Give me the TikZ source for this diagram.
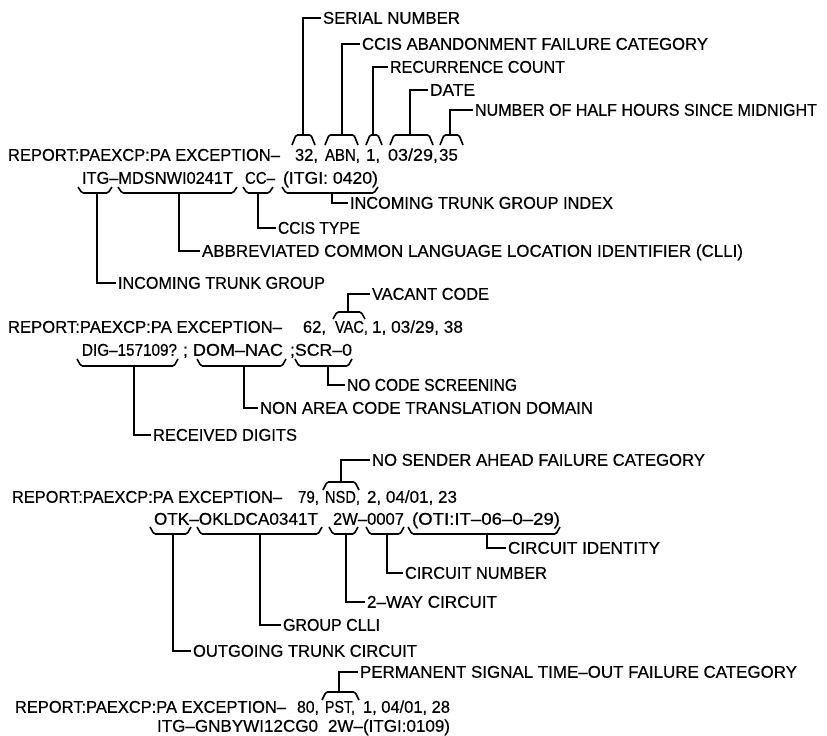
\documentclass[tikz,border=0pt]{standalone}
\usepackage{fontspec}
\setmainfont{Liberation Sans}[FakeBold=0.5]
\usepackage{graphicx}
\newlength\natw
\newcommand\fitto[2]{\settowidth{\natw}{#2}\pgfmathsetmacro\sx{#1/\natw}\scalebox{\sx}[1]{#2}}
\tikzset{
  txt/.style={inner sep=0pt,outer sep=0pt,anchor=base west,font=\fontsize{17}{19}\selectfont},
  lead/.style={line width=1.6pt},
  brc/.style={line width=1.6pt,rounded corners=1.5pt}
}
% label fitted to width: name, x-left, x-right, y-centre, text
\newcommand\lab[5]{%
  \pgfmathsetmacro\labw{#3-#2}%
  \node[txt] (#1) at (#2,#4+5.75) {\fitto{\labw}{#5}};
  \coordinate (#1e) at (#2-2.5,#4);}
% label at natural width: name, x-left, y-centre, text
\newcommand\labn[4]{%
  \node[txt] (#1) at (#2-1,#3+5.75) {#4};}
% upper brace: name, x1, x2, ytop, yends, x of stem
\newcommand\ubr[6]{%
  \draw[brc] (#2,#5) -- (#2+4,#4) -- (#3-4,#4) -- (#3,#5);
  \coordinate (#1) at (#6,#4);}
% lower brace: name, x1, x2, yends, ybottom, x of stem
\newcommand\lbr[6]{%
  \draw[brc] (#2,#4) -- (#2+4,#5) -- (#3-4,#5) -- (#3,#4);
  \coordinate (#1) at (#6,#5);}
\begin{document}
\begin{tikzpicture}[x=1pt,y=-1pt]
\useasboundingbox[fill=white] (0,0) rectangle (827,736);
% ---------------- section 1
\lab{serial}{323}{460}{18}{SERIAL NUMBER}
\lab{abn}{362}{708}{44}{CCIS ABANDONMENT FAILURE CATEGORY}
\lab{rec}{390}{565}{67}{RECURRENCE COUNT}
\lab{date}{430}{475}{90}{DATE}
\lab{half}{475}{817}{110}{NUMBER OF HALF HOURS SINCE MIDNIGHT}
\lab{rA}{8}{280}{155}{REPORT:PAEXCP:PA EXCEPTION–}
\lab{fa}{295}{318}{155}{32,}
\lab{fb}{325}{360}{155}{ABN,}
\labn{fc}{367}{155}{1,}
\lab{fd}{388}{438}{155}{03/29,}
\labn{fe}{440}{155}{35}
\lab{ga}{82}{233}{178}{ITG–MDSNWI0241T}
\lab{gb}{245}{275}{178}{CC–}
\lab{gc}{283}{378}{178}{(ITGI: 0420)}
\lab{itgi}{350}{613}{203}{INCOMING TRUNK GROUP INDEX}
\lab{ccis}{278}{360}{228}{CCIS TYPE}
\lab{clli}{202}{743}{251}{ABBREVIATED COMMON LANGUAGE LOCATION IDENTIFIER (CLLI)}
\lab{itg}{118}{325}{283}{INCOMING TRUNK GROUP}
\ubr{ua}{292}{315}{135}{145}{303}
\ubr{ub}{325}{358}{135}{145}{342}
\ubr{uc}{366}{382}{135}{145}{373}
\ubr{ud}{390}{433}{135}{145}{410}
\ubr{ue}{440}{463}{135}{145}{450}
\lbr{da}{78}{112}{187}{193}{97}
\lbr{db}{118}{237}{187}{193}{179}
\lbr{dc}{243}{273}{187}{193}{258}
\lbr{dd}{282}{378}{187}{193}{332}
\draw[lead] (ua) |- (seriale);
\draw[lead] (ub) |- (abne);
\draw[lead] (uc) |- (rece);
\draw[lead] (ud) |- (datee);
\draw[lead] (ue) |- (halfe);
\draw[lead] (da) |- (itge);
\draw[lead] (db) |- (cllie);
\draw[lead] (dc) |- (ccise);
\draw[lead] (dd) |- (itgie);
% ---------------- section 2
\lab{vac}{372}{489}{294}{VACANT CODE}
\lab{rB}{8}{282}{327}{REPORT:PAEXCP:PA EXCEPTION–}
\lab{ha}{303}{326}{327}{62,}
\lab{hb}{335}{368}{327}{VAC,}
\lab{hc}{372}{463}{327}{1, 03/29, 38}
\lab{ka}{82}{177}{350}{DIG–157109?}
\lab{kb}{183}{283}{350}{; DOM–NAC}
\lab{kc}{290}{352}{350}{;SCR–0}
\lab{scr}{347}{517}{385}{NO CODE SCREENING}
\lab{nac}{260}{593}{408}{NON AREA CODE TRANSLATION DOMAIN}
\lab{dig}{153}{297}{435}{RECEIVED DIGITS}
\ubr{va}{333}{365}{312}{319}{348}
\lbr{ea}{77}{178}{359}{366}{134}
\lbr{eb}{197}{286}{359}{366}{244}
\lbr{ec}{295}{352}{359}{366}{328}
\draw[lead] (va) |- (vace);
\draw[lead] (ea) |- (dige);
\draw[lead] (eb) |- (nace);
\draw[lead] (ec) |- (scre);
% ---------------- section 3
\lab{nsd}{372}{705}{460}{NO SENDER AHEAD FAILURE CATEGORY}
\lab{rC}{12}{282}{497}{REPORT:PAEXCP:PA EXCEPTION–}
\lab{ma}{298}{319}{497}{79,}
\lab{mb}{325}{360}{497}{NSD,}
\lab{mc}{367}{457}{497}{2, 04/01, 23}
\lab{na}{154}{318}{519}{OTK–OKLDCA0341T}
\lab{nb}{333}{404}{519}{2W–0007}
\lab{nc}{412}{560}{519}{(OTI:IT–06–0–29)}
\lab{cid}{508}{660}{548}{CIRCUIT IDENTITY}
\lab{cnum}{405}{547}{573}{CIRCUIT NUMBER}
\lab{way}{367}{497}{602}{2–WAY CIRCUIT}
\lab{gcl}{283}{380}{625}{GROUP CLLI}
\lab{otc}{193}{417}{651}{OUTGOING TRUNK CIRCUIT}
\ubr{wa}{323}{359}{482}{490}{341}
\lbr{pa}{150}{191}{527}{534}{173}
\lbr{pb}{197}{322}{527}{534}{260}
\lbr{pc}{329}{358}{527}{534}{346}
\lbr{pd}{366}{404}{527}{534}{387}
\lbr{pe}{408}{560}{527}{534}{487}
\draw[lead] (wa) |- (nsde);
\draw[lead] (pa) |- (otce);
\draw[lead] (pb) |- (gcle);
\draw[lead] (pc) |- (waye);
\draw[lead] (pd) |- (cnume);
\draw[lead] (pe) |- (cide);
% ---------------- section 4
\lab{pst}{360}{797}{672}{PERMANENT SIGNAL TIME–OUT FAILURE CATEGORY}
\lab{rD}{15}{286}{707}{REPORT:PAEXCP:PA EXCEPTION–}
\lab{qa}{297}{319}{707}{80,}
\lab{qb}{325}{355}{707}{PST,}
\lab{qc}{363}{450}{707}{1, 04/01, 28}
\lab{ta}{157}{318}{726}{ITG–GNBYWI12CG0}
\lab{tb}{328}{450}{726}{2W–(ITGI:0109)}
\ubr{xa}{322}{359}{692}{700}{339}
\draw[lead] (xa) |- (pste);
\end{tikzpicture}
\end{document}
